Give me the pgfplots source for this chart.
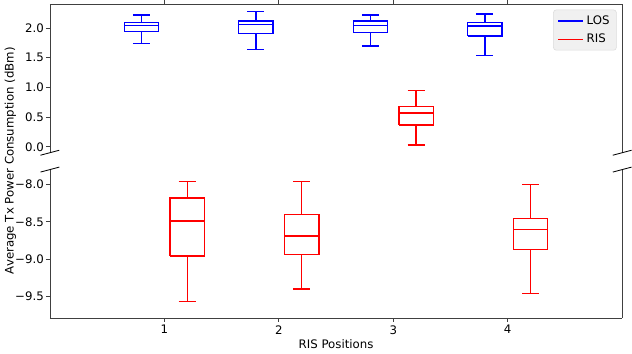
\documentclass[border=0pt]{standalone}
\usepackage{pgfplots}
\pgfplotsset{compat=1.18}
\usepackage{fontspec}
\setmainfont{DejaVu Sans}

\definecolor{legbg}{gray}{0.94}
\definecolor{legedge}{gray}{0.86}
\definecolor{losblue}{RGB}{0,0,255}
\definecolor{risred}{RGB}{255,0,0}

\pgfplotsset{
  brk/.style={
    width=414pt, height=107.3pt, scale only axis,
    xmin=0, xmax=5, xtick={1,2,3,4},
    /pgf/number format/assume math mode=true,
    tick align=outside, major tick length=2.9pt,
    tick style={black!75, line width=0.55pt},
    axis line style={black!75, line width=0.55pt},
    ticklabel style={font=\fontsize{8.5}{10}\selectfont},
    yticklabel style={xshift=2pt},
    label style={font=\fontsize{8.5}{10}\selectfont},
    unbounded coords=jump,
  },
}

% one box: colour, position, lower whisker, lower quartile, median, upper quartile, upper whisker
% box width 0.3, cap width 0.15 (axis units)
\newcommand\bxp[7]{%
  \pgfmathsetmacro\xa{#2-0.15}\pgfmathsetmacro\xb{#2+0.15}%
  \pgfmathsetmacro\xc{#2-0.075}\pgfmathsetmacro\xd{#2+0.075}%
  \edef\tmp{\noexpand\addplot[draw=#1, line width=1pt, forget plot] coordinates {
    (\xa,#4) (\xb,#4) (\xb,#6) (\xa,#6) (\xa,#4) (#2,nan)
    (\xa,#5) (\xb,#5) (#2,nan)
    (#2,#4) (#2,#3) (#2,nan) (\xc,#3) (\xd,#3) (#2,nan)
    (#2,#6) (#2,#7) (#2,nan) (\xc,#7) (\xd,#7)};}%
  \tmp}

\begin{document}
\begin{tikzpicture}
% upper part of the broken axis
\begin{axis}[brk, name=top,
    axis x line*=top, axis y line*=box, ytick pos=left, xtick pos=top,
    xticklabels={}, xticklabel style={overlay},
    ymin=-0.1, ymax=2.4,
    ytick={0,0.5,1,1.5,2}, yticklabels={0.0,0.5,1.0,1.5,2.0},
    legend style={at={(1,1)}, anchor=north east, xshift=-4pt, yshift=-3.8pt,
      fill=legbg, draw=legedge, rounded corners=2pt,
      font=\fontsize{8.5}{10}\selectfont, cells={anchor=west},
      inner xsep=3pt, inner ysep=2pt, row sep=1.5pt},
    legend image code/.code={\draw[#1, line width=1pt] (0pt,0pt) -- (18pt,0pt);},
]
\addlegendimage{draw=losblue}\addlegendentry{LOS}
\addlegendimage{draw=risred}\addlegendentry{RIS}
% LOS
\bxp{losblue}{0.8}{1.74}{1.94}{2.045}{2.09}{2.22}
\bxp{losblue}{1.8}{1.64}{1.905}{2.06}{2.12}{2.285}
\bxp{losblue}{2.8}{1.70}{1.93}{2.045}{2.12}{2.22}
\bxp{losblue}{3.8}{1.54}{1.87}{2.035}{2.095}{2.235}
% RIS, position 3
\bxp{risred}{3.2}{0.03}{0.37}{0.57}{0.675}{0.95}
\end{axis}

% lower part of the broken axis
\begin{axis}[brk, name=bot, at={(top.south west)}, anchor=north west, yshift=-12.2pt,
    axis x line*=bottom, axis y line*=box, ytick pos=left, xtick pos=bottom,
    ymin=-9.79, ymax=-7.8,
    ytick={-9.5,-9,-8.5,-8}, yticklabels={−9.5,−9.0,−8.5,−8.0},
    xticklabel style={yshift=1pt},
    xlabel={RIS Positions}, xlabel style={yshift=3pt},
    ylabel={Average Tx Power Consumption (dBm)},
    ylabel style={at={(axis description cs:-0.0507,1.06)}, anchor=south},
]
\bxp{risred}{1.2}{-9.57}{-8.96}{-8.49}{-8.18}{-7.96}
\bxp{risred}{2.2}{-9.40}{-8.94}{-8.69}{-8.40}{-7.96}
\bxp{risred}{4.2}{-9.46}{-8.87}{-8.60}{-8.46}{-8.0}
\end{axis}

% break marks
\foreach \c in {top.south west, top.south east, bot.north west, bot.north east}
  \draw[black, line width=0.6pt] ([shift={(-6.8pt,-1.8pt)}]\c) -- ++(13.6pt,3.6pt);
\end{tikzpicture}
\end{document}
